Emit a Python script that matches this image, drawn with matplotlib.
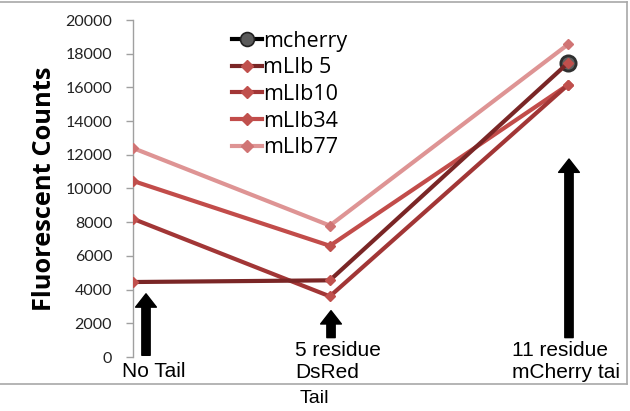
import numpy as np
import matplotlib
matplotlib.use("Agg")
import matplotlib.pyplot as plt
from matplotlib.lines import Line2D

# ---- data ----
categories = ["No Tail", "5 residue\nDsRed", "11 residue\nmCherry tai"]
x_pos = [0.0, 1.0, 2.21]
series_names = ["mcherry", "mLIb 5", "mLIb10", "mLIb34", "mLIb77"]
mcherry = [np.nan, np.nan, 17450]
mlib5 = [4450, 4550, 17450]
mlib10 = [8200, 3600, 16150]
mlib34 = [10450, 6600, 16150]
mlib77 = [12400, 7800, 18550]
yticks = [0, 2000, 4000, 6000, 8000, 10000, 12000, 14000, 16000, 18000, 20000]

W, H = 630, 411
fig = plt.figure(figsize=(W / 100, H / 100), dpi=100)

# axes placement in pixels
left_px, right_px, top_px, bot_px = 133, 605, 20, 357
ax = fig.add_axes([left_px / W, 1 - bot_px / H, (right_px - left_px) / W, (bot_px - top_px) / H])
px_per_unit = (568 - 133) / 2.21
ax.set_xlim(0, (right_px - left_px) / px_per_unit)
ax.set_ylim(0, 20000)

line_cols = ["#7a2626", "#a23636", "#c24c4a", "#de9494"]
face_cols = ["#c0504d", "#c0504d", "#c0504d", "#d07474"]
data = [mlib5, mlib10, mlib34, mlib77]
handles = []
# mcherry circle
ax.plot(x_pos, mcherry, color="black", lw=3, marker="o", ms=11,
        mfc="#606060", mec="#303030", mew=2, zorder=2)
handles.append(Line2D([], [], color="black", lw=3, marker="o", ms=10,
                      mfc="#5a5a5a", mec="#202020", mew=1.2))
for i in [3, 2, 1, 0]:
    ax.plot(x_pos, data[i], color=line_cols[i], lw=3, marker="D", ms=5.5,
            mfc=face_cols[i], mec=face_cols[i], zorder=3 + (1 if i == 0 else 0))
for i in range(4):
    handles.append(Line2D([], [], color=line_cols[i], lw=3, marker="D", ms=6,
                          mfc=face_cols[i], mec=face_cols[i]))

# axes styling
for s in ["top", "right", "bottom"]:
    ax.spines[s].set_visible(False)
ax.spines["left"].set_color("#a0a0a0")
ax.spines["left"].set_linewidth(1)
ax.set_yticks(yticks)
ax.set_yticklabels([str(v) for v in yticks], fontsize=11.5, family="Lato", color="#222222")
ax.tick_params(axis="y", direction="out", length=5, color="#a0a0a0", width=1, pad=10)
ax.set_xticks([])
ax.set_ylabel("Fluorescent Counts", fontsize=18.3, family="Open Sans", fontweight="bold", labelpad=6)

# category labels (text boxes)
lab_x = [0.0 - 11 / px_per_unit, 1.0 - 35 / px_per_unit, 2.21 - 56 / px_per_unit]
lab_y = [-300, 950, 950]
for t, xv, yv in zip(categories, lab_x, lab_y):
    ax.text(xv, yv, t, ha="left", va="top", fontsize=15,
            family="Liberation Sans", linespacing=1.2, clip_on=False)
fig.text(300 / W, 1 - 398 / H, "Tail", ha="left", va="center", fontsize=14, family="Liberation Sans")

# arrows
arr = dict(arrowstyle="simple,head_width=1.25,head_length=0.8,tail_width=0.5",
           color="black", shrinkA=0, shrinkB=0, mutation_scale=12)
ax.annotate("", xy=(13 / px_per_unit, 3750), xytext=(13 / px_per_unit, 100), arrowprops=arr)
ax.annotate("", xy=(1.006, 2750), xytext=(1.006, 1150), arrowprops=arr)
ax.annotate("", xy=(2.215, 11750), xytext=(2.215, 1150), arrowprops=arr)

leg = ax.legend(handles, series_names, loc="upper left", bbox_to_anchor=(221 / W, 1 - 20 / H),
                bbox_transform=fig.transFigure, frameon=False,
                prop={"family": "Open Sans", "size": 15.5},
                handlelength=1.4, handletextpad=0.05, labelspacing=0.26, borderpad=0)

# outer frame
frame_col = "#a8a8a8"
fig.add_artist(Line2D([0, 627 / W], [1 - 2 / H, 1 - 2 / H], color=frame_col, lw=1.2, transform=fig.transFigure))
fig.add_artist(Line2D([627 / W, 627 / W], [1 - 2 / H, 1 - 384 / H], color=frame_col, lw=1.2, transform=fig.transFigure))
fig.add_artist(Line2D([0, 627 / W], [1 - 384 / H, 1 - 384 / H], color=frame_col, lw=1.2, transform=fig.transFigure))

fig.savefig("out.png", dpi=100)
